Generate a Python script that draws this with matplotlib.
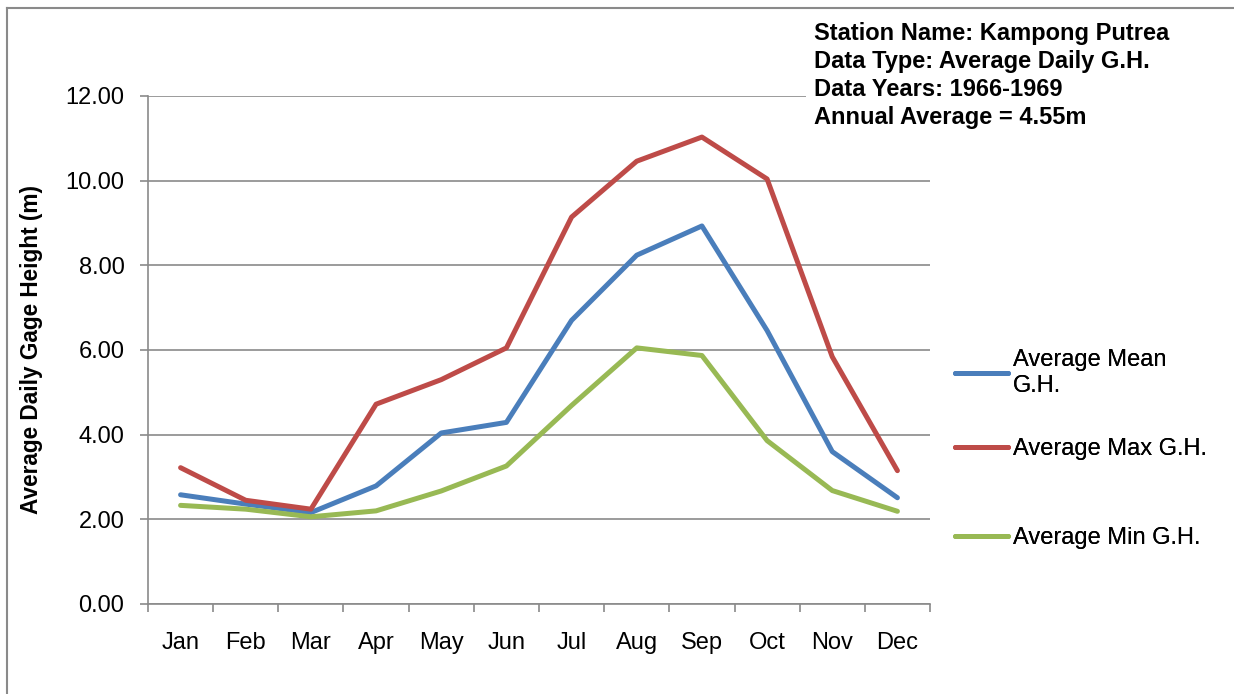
import matplotlib
matplotlib.use("Agg")
import matplotlib.pyplot as plt
import matplotlib.ticker as mticker
from matplotlib.lines import Line2D
import numpy as np

plt.rcParams["font.family"] = ["Liberation Sans", "DejaVu Sans"]

MONTHS = ["Jan", "Feb", "Mar", "Apr", "May", "Jun", "Jul", "Aug", "Sep", "Oct", "Nov", "Dec"]
MEAN_GH = [2.58, 2.36, 2.16, 2.79, 4.04, 4.29, 6.70, 8.24, 8.93, 6.46, 3.60, 2.51]
MAX_GH = [3.22, 2.45, 2.24, 4.72, 5.30, 6.05, 9.14, 10.46, 11.03, 10.04, 5.84, 3.15]
MIN_GH = [2.33, 2.24, 2.06, 2.20, 2.67, 3.26, 4.69, 6.05, 5.87, 3.86, 2.68, 2.19]
SERIES_NAMES = ["Average Mean\nG.H.", "Average Max G.H.", "Average Min G.H."]
INFO_LINES = [
    "Station Name: Kampong Putrea",
    "Data Type: Average Daily G.H.",
    "Data Years: 1966-1969",
    "Annual Average = 4.55m",
]

COLORS = ["#4A7EBB", "#BE4B48", "#98B954"]
GRID = "#8A8A8A"
FS = 17


def main():
    fig = plt.figure(figsize=(12.34, 6.94), dpi=100)
    ax = fig.add_axes([148 / 1234, 1 - 604 / 694, 782 / 1234, 508 / 694])

    x = np.arange(len(MONTHS))
    handles = []
    for vals, color in zip([MEAN_GH, MAX_GH, MIN_GH], COLORS):
        (ln,) = ax.plot(x, vals, color=color, linewidth=3.6,
                        solid_joinstyle="round", solid_capstyle="round", zorder=3)
        handles.append(ln)

    ax.set_xlim(-0.5, len(MONTHS) - 0.5)
    ax.set_ylim(0, 12)
    ax.yaxis.set_major_locator(mticker.MultipleLocator(2))
    ax.yaxis.set_major_formatter(mticker.FormatStrFormatter("%.2f"))
    ax.grid(axis="y", color=GRID, linewidth=1.2, zorder=1)

    # category boundaries as ticks, labels at centers
    ax.set_xticks(np.arange(-0.5, len(MONTHS), 1.0))
    ax.set_xticklabels([])
    ax.set_xticks(x, minor=True)
    ax.set_xticklabels(MONTHS, minor=True)
    ax.tick_params(axis="x", which="major", length=6, width=1.2, color=GRID, direction="out")
    ax.tick_params(axis="x", which="minor", length=0, pad=20, labelsize=FS)
    ax.tick_params(axis="y", length=6, width=1.2, color=GRID, pad=11, labelsize=FS)

    for side in ["top", "right"]:
        ax.spines[side].set_visible(False)
    for side in ["left", "bottom"]:
        ax.spines[side].set_color(GRID)
        ax.spines[side].set_linewidth(1.2)

    ax.set_ylabel("Average Daily Gage Height (m)", fontsize=16.3, fontweight="bold")
    ax.yaxis.set_label_coords(-0.134, 0.5)

    # legend entries placed one by one, like the Excel layout
    legend_y = [1 - 373 / 694, 1 - 449 / 694, 1 - 538 / 694]
    for h, name, ly in zip(handles, SERIES_NAMES, legend_y):
        leg = fig.legend([h], [name], loc="center left", bbox_to_anchor=(955 / 1234, ly),
                         frameon=False, fontsize=FS, handlelength=2.25, handletextpad=0.2,
                         borderpad=0, borderaxespad=0)
        fig.add_artist(leg)

    fig.text(814 / 1234, 1 - 22 / 694, "\n".join(INFO_LINES), fontsize=FS, fontweight="bold",
             ha="left", va="top", linespacing=1.27,
             bbox=dict(facecolor="white", edgecolor="none", pad=6))

    # outer chart frame (only top/left edges fall inside the picture)
    fx, fy = 7 / 1234, 1 - 8 / 694
    fig.add_artist(Line2D([fx, 1.05], [fy, fy], transform=fig.transFigure, color=GRID, linewidth=1.5))
    fig.add_artist(Line2D([fx, fx], [-0.05, fy], transform=fig.transFigure, color=GRID, linewidth=1.5))

    fig.savefig("out.png", dpi=100)
    plt.close(fig)


if __name__ == "__main__":
    main()
